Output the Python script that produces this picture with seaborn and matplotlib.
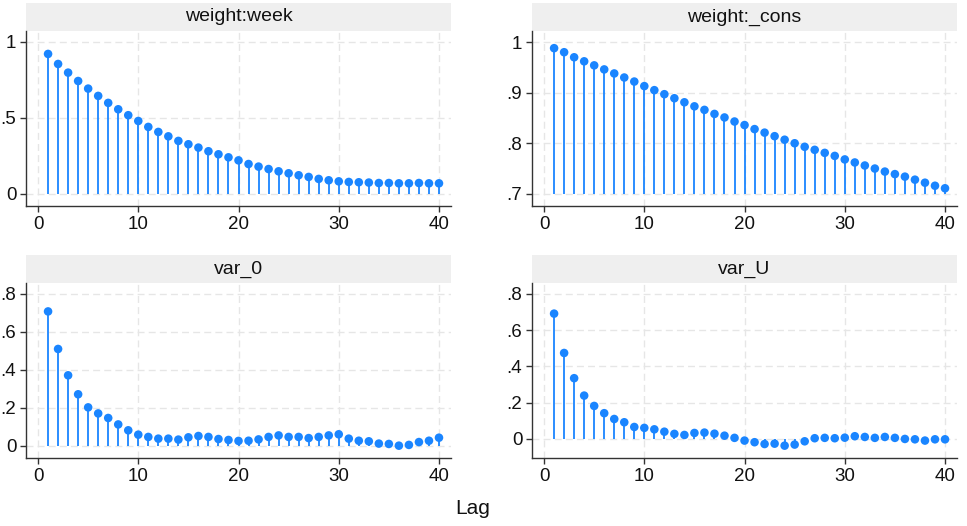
import numpy as np
import pandas as pd
import matplotlib
matplotlib.use("Agg")
import matplotlib.pyplot as plt
import seaborn as sns
from matplotlib.patches import Rectangle
from matplotlib.ticker import FuncFormatter

# autocorrelation values
lags = list(range(1, 41))

weight_week = [0.921, 0.855, 0.798, 0.743, 0.693, 0.645, 0.599, 0.557, 0.518, 0.480,
               0.441, 0.408, 0.379, 0.349, 0.327, 0.305, 0.281, 0.261, 0.241, 0.221,
               0.197, 0.180, 0.164, 0.149, 0.136, 0.123, 0.112, 0.099, 0.090, 0.083,
               0.079, 0.077, 0.075, 0.072, 0.072, 0.070, 0.070, 0.072, 0.070, 0.070]

weight_cons = [0.988, 0.980, 0.970, 0.962, 0.954, 0.946, 0.938, 0.930, 0.922, 0.913,
               0.905, 0.897, 0.889, 0.881, 0.873, 0.866, 0.858, 0.851, 0.843, 0.836,
               0.828, 0.821, 0.814, 0.807, 0.800, 0.793, 0.787, 0.781, 0.775, 0.768,
               0.762, 0.756, 0.750, 0.744, 0.739, 0.734, 0.728, 0.722, 0.716, 0.711]

var_0 = [0.708, 0.510, 0.371, 0.271, 0.202, 0.170, 0.146, 0.112, 0.081, 0.058,
         0.046, 0.037, 0.037, 0.032, 0.044, 0.051, 0.046, 0.035, 0.030, 0.025,
         0.026, 0.033, 0.046, 0.054, 0.046, 0.046, 0.040, 0.046, 0.054, 0.060,
         0.037, 0.026, 0.023, 0.011, 0.009, 0.000, 0.004, 0.019, 0.026, 0.042]

var_U = [0.691, 0.474, 0.335, 0.239, 0.182, 0.142, 0.110, 0.092, 0.066, 0.061,
         0.053, 0.040, 0.028, 0.022, 0.033, 0.035, 0.029, 0.018, 0.006, -0.009,
         -0.018, -0.028, -0.026, -0.037, -0.031, -0.013, 0.004, 0.006, 0.004, 0.007,
         0.015, 0.011, 0.006, 0.011, 0.006, 0.000, -0.002, -0.009, -0.002, -0.002]

panel_titles = ["weight:week", "weight:_cons", "var_0", "var_U"]
panel_values = [weight_week, weight_cons, var_0, var_U]
panel_yticks = [[0, 0.5, 1], [0.7, 0.8, 0.9, 1], [0, 0.2, 0.4, 0.6, 0.8], [0, 0.2, 0.4, 0.6, 0.8]]
panel_ylims = [(-0.079, 1.072), (0.676, 1.022), (-0.065, 0.858), (-0.105, 0.86)]
panel_base = [0, 0.7, 0, 0]
xticks = [0, 10, 20, 30, 40]

sns.set_theme(style="white")
plt.rcParams["font.family"] = ["Liberation Sans", "DejaVu Sans"]

BLUE = "#1a85ff"
GRID = "#e6e6e6"


def stata_fmt(v, _pos):
    s = f"{v:g}"
    if s.startswith("0."):
        s = s[1:]
    return s


fig = plt.figure(figsize=(9.67, 5.26), dpi=100)

# axes rectangles in figure fractions
positions = [
    (0.0269, 0.6084, 0.4395, 0.3327),
    (0.5502, 0.6084, 0.4395, 0.3327),
    (0.0269, 0.1293, 0.4395, 0.3327),
    (0.5502, 0.1293, 0.4395, 0.3327),
]

for pos, title, vals, yt, yl, base in zip(positions, panel_titles, panel_values,
                                          panel_yticks, panel_ylims, panel_base):
    ax = fig.add_axes(pos)
    df = pd.DataFrame({"lag": lags, "ac": vals})

    ax.vlines(df["lag"], base, df["ac"], color=BLUE, linewidth=1.3, zorder=2)
    sns.scatterplot(data=df, x="lag", y="ac", color=BLUE, s=38,
                    edgecolor="none", ax=ax, zorder=3)

    ax.set_xlim(-1.2, 41.2)
    ax.set_ylim(*yl)
    ax.set_xticks(xticks)
    ax.set_yticks(yt)
    ax.yaxis.set_major_formatter(FuncFormatter(stata_fmt))
    ax.set_xlabel("")
    ax.set_ylabel("")

    ax.grid(True, color=GRID, linestyle=(0, (5, 3)), linewidth=1.0, zorder=0)
    ax.set_axisbelow(True)
    for side in ["top", "right"]:
        ax.spines[side].set_visible(False)
    for side in ["left", "bottom"]:
        ax.spines[side].set_color("#333333")
        ax.spines[side].set_linewidth(1.0)
    ax.tick_params(axis="both", which="major", direction="out", length=4,
                   width=1.0, color="#333333", labelsize=13.5, pad=3,
                   left=True, bottom=True, labelcolor="#111111")

    # strip header
    strip_h = 28 / (0.3327 * 526)
    ax.add_patch(Rectangle((0, 1), 1, strip_h, transform=ax.transAxes,
                           facecolor="#efefef", edgecolor="none", clip_on=False))
    ax.text(0.5, 1 + strip_h / 2, title, transform=ax.transAxes, ha="center",
            va="center", fontsize=14, color="#111111")

fig.text(473 / 967, 1 - 508 / 526, "Lag", ha="center", va="center", fontsize=15,
         color="#111111")

fig.savefig("out.png", dpi=100, facecolor="white")
